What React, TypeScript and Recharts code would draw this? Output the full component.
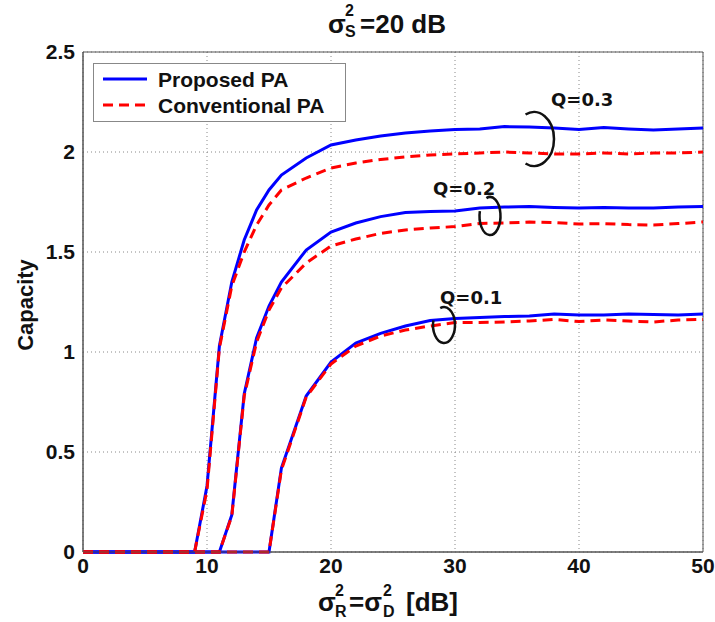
import { LineChart, Line, XAxis, YAxis, CartesianGrid, ReferenceArea } from "recharts";

// sigma_R^2 = sigma_D^2 in dB
const SNR = [0, 1, 2, 3, 4, 5, 6, 7, 8, 9, 10, 11, 12, 13, 14, 15, 16, 18, 20, 22, 24, 26, 28, 30, 32, 34, 36, 38, 40, 42, 44, 46, 48, 50];

const PROP_Q03 = [0, 0, 0, 0, 0, 0, 0, 0, 0, 0, 0.33, 1.03, 1.35, 1.56, 1.71, 1.81, 1.885, 1.97, 2.035, 2.06, 2.08, 2.095, 2.105, 2.113, 2.115, 2.127, 2.125, 2.12, 2.113, 2.122, 2.115, 2.11, 2.115, 2.12];
const CONV_Q03 = [0, 0, 0, 0, 0, 0, 0, 0, 0, 0, 0.31, 1.02, 1.33, 1.5, 1.635, 1.735, 1.81, 1.87, 1.92, 1.945, 1.963, 1.975, 1.985, 1.99, 1.995, 2.0, 1.995, 1.99, 1.99, 1.995, 1.99, 1.995, 1.995, 2.0];
const PROP_Q02 = [0, 0, 0, 0, 0, 0, 0, 0, 0, 0, 0, 0, 0.185, 0.79, 1.07, 1.23, 1.35, 1.51, 1.6, 1.645, 1.677, 1.697, 1.703, 1.705, 1.72, 1.725, 1.727, 1.723, 1.72, 1.722, 1.72, 1.72, 1.725, 1.727];
const CONV_Q02 = [0, 0, 0, 0, 0, 0, 0, 0, 0, 0, 0, 0, 0.18, 0.78, 1.05, 1.21, 1.32, 1.445, 1.53, 1.565, 1.593, 1.61, 1.62, 1.627, 1.643, 1.645, 1.65, 1.647, 1.64, 1.642, 1.637, 1.635, 1.642, 1.65];
const PROP_Q01 = [0, 0, 0, 0, 0, 0, 0, 0, 0, 0, 0, 0, 0, 0, 0, 0, 0.42, 0.78, 0.95, 1.045, 1.093, 1.13, 1.157, 1.168, 1.172, 1.177, 1.18, 1.19, 1.185, 1.185, 1.19, 1.188, 1.185, 1.19];
const CONV_Q01 = [0, 0, 0, 0, 0, 0, 0, 0, 0, 0, 0, 0, 0, 0, 0, 0, 0.41, 0.775, 0.94, 1.03, 1.08, 1.11, 1.13, 1.147, 1.148, 1.15, 1.155, 1.163, 1.152, 1.16, 1.155, 1.15, 1.16, 1.163];

const X_TICKS = [0, 10, 20, 30, 40, 50];
const Y_TICKS = [0, 0.5, 1, 1.5, 2, 2.5];

const data = SNR.map((x, i) => ({
  x,
  p3: PROP_Q03[i],
  c3: CONV_Q03[i],
  p2: PROP_Q02[i],
  c2: CONV_Q02[i],
  p1: PROP_Q01[i],
  c1: CONV_Q01[i],
}));

const BLUE = "#0000ff";
const RED = "#ff0000";
const FONT = "'Liberation Sans', Arial, sans-serif";

function arc(cx: number, cy: number, rx: number, ry: number, a1: number, a2: number) {
  const r = Math.PI / 180;
  const x1 = cx + rx * Math.cos(a1 * r);
  const y1 = cy + ry * Math.sin(a1 * r);
  const x2 = cx + rx * Math.cos(a2 * r);
  const y2 = cy + ry * Math.sin(a2 * r);
  const large = a2 - a1 > 180 ? 1 : 0;
  return `M ${x1} ${y1} A ${rx} ${ry} 0 ${large} 1 ${x2} ${y2}`;
}

export default function App() {
  const tick = { fontSize: 21, fontWeight: "bold", fill: "#111", fontFamily: FONT };
  return (
    <div style={{ position: "absolute", left: 0, top: 0, width: 715, height: 622, background: "#fff" }}>
      <LineChart width={715} height={622} data={data} margin={{ top: 52, right: 12, bottom: 40, left: 23 }}>
        <CartesianGrid stroke="#888" strokeDasharray="1 3" />
        <XAxis
          dataKey="x"
          type="number"
          domain={[0, 50]}
          ticks={X_TICKS}
          height={30}
          tickLine={false}
          tickMargin={0}
          axisLine={{ stroke: "#555" }}
          tick={tick}
        />
        <YAxis
          type="number"
          domain={[0, 2.5]}
          ticks={Y_TICKS}
          width={60}
          tickLine={false}
          axisLine={{ stroke: "#555" }}
          tick={tick}
        />
        <ReferenceArea x1={0} x2={50} y1={0} y2={2.5} fill="none" stroke="#555" strokeWidth={1} />
        <Line dataKey="p3" stroke={BLUE} strokeWidth={3} dot={false} isAnimationActive={false} />
        <Line dataKey="p2" stroke={BLUE} strokeWidth={3} dot={false} isAnimationActive={false} />
        <Line dataKey="p1" stroke={BLUE} strokeWidth={3} dot={false} isAnimationActive={false} />
        <Line dataKey="c3" stroke={RED} strokeWidth={3} strokeDasharray="10 6" dot={false} isAnimationActive={false} />
        <Line dataKey="c2" stroke={RED} strokeWidth={3} strokeDasharray="10 6" dot={false} isAnimationActive={false} />
        <Line dataKey="c1" stroke={RED} strokeWidth={3} strokeDasharray="10 6" dot={false} isAnimationActive={false} />
      </LineChart>

      <svg
        width={715}
        height={622}
        style={{ position: "absolute", left: 0, top: 0, pointerEvents: "none" }}
        fontFamily={FONT}
        fontWeight="bold"
        fill="#111"
      >
        {/* title */}
        <text x={328} y={33} fontSize={26}>σ</text>
        <text x={345} y={16} fontSize={16}>2</text>
        <text x={345} y={37} fontSize={16}>S</text>
        <text x={360} y={33} fontSize={26}>=20 dB</text>

        {/* x label */}
        <text x={318} y={611} fontSize={26}>σ</text>
        <text x={335} y={596} fontSize={16}>2</text>
        <text x={335} y={617} fontSize={16}>R</text>
        <text x={349} y={611} fontSize={26}>=σ</text>
        <text x={383} y={596} fontSize={16}>2</text>
        <text x={383} y={617} fontSize={16}>D</text>
        <text x={406} y={611} fontSize={26}>[dB]</text>

        {/* y label */}
        <text x={0} y={0} fontSize={22} textAnchor="middle" transform="translate(33 305) rotate(-90)">
          Capacity
        </text>

        {/* legend */}
        <rect x={93.5} y={63.5} width={252} height={58} fill="#fff" stroke="#888" />
        <line x1={103} x2={147} y1={79} y2={79} stroke={BLUE} strokeWidth={3} />
        <line x1={103} x2={147} y1={105} y2={105} stroke={RED} strokeWidth={3} strokeDasharray="10 6" />
        <text x={158} y={87} fontSize={21}>Proposed PA</text>
        <text x={158} y={113} fontSize={21}>Conventional PA</text>

        {/* Q annotations */}
        <g fill="none" stroke="#111" strokeWidth={2.5}>
          <path d={arc(534, 139, 20, 27, -115, 115)} />
          <path d={arc(490, 216, 10.5, 19, -110, 195)} />
          <path d={arc(444, 325, 11, 18, -110, 195)} />
        </g>
        <g fontFamily="'DejaVu Sans', sans-serif" fontSize={18}>
          <text x={551} y={106}>Q=0.3</text>
          <text x={433} y={195}>Q=0.2</text>
          <text x={440} y={304}>Q=0.1</text>
        </g>
      </svg>
    </div>
  );
}
